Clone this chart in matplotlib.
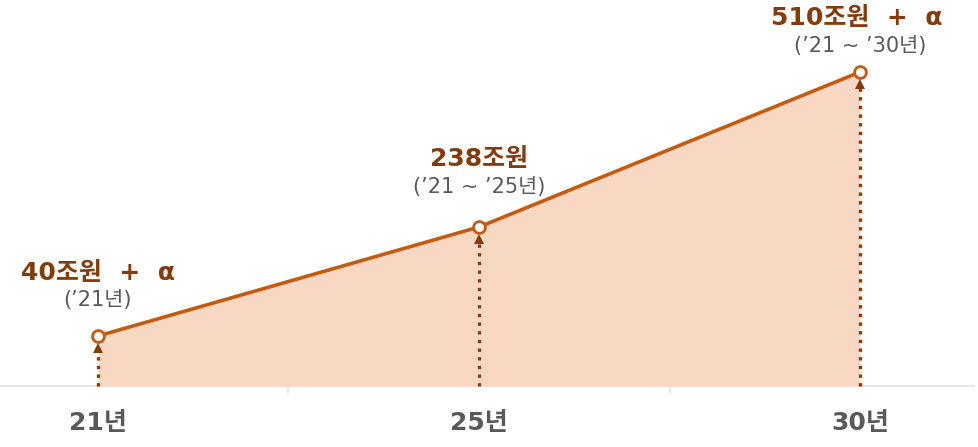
import matplotlib
matplotlib.use("Agg")
import matplotlib.pyplot as plt

# ---- data ----
categories = ["21년", "25년", "30년"]
amount_labels = ["40조원  +  α", "238조원", "510조원  +  α"]
period_labels = ["(’21년)", "(’21 ~ ’25년)", "(’21 ~ ’30년)"]
amounts = [40, 238, 510]          # 조원 (label values)
drawn_levels = [50, 159, 314]     # schematic heights as drawn in the picture

LINE = "#c55a11"
FILL = "#f8d8c2"
DARK = "#843c0c"
GRAY = "#595959"
AXIS = "#e3e3e3"

FAM = ["DejaVu Sans", "Noto Sans CJK KR"]
plt.rcParams["font.family"] = FAM

fig = plt.figure(figsize=(9.79, 4.47), dpi=100)
ax = fig.add_axes([0, 0, 1, 1])
ax.set_xlim(-0.257, 2.312)
ax.set_ylim(-61, 386)
ax.axis("off")

x = list(range(len(categories)))

# baseline and category separators
ax.plot([-0.257, 2.3], [0, 0], color=AXIS, lw=1.3, zorder=1)
ax.vlines([0.5, 1.5], -7, 0, color=AXIS, lw=1.3, zorder=1)

# area + line
ax.fill_between(x, 0, drawn_levels, color=FILL, lw=0, zorder=2)
ax.plot(x, drawn_levels, color=LINE, lw=2.6, zorder=4, solid_capstyle="round")

# dotted arrows
for xi, yi in zip(x, drawn_levels):
    ax.plot([xi, xi], [0, yi - 14], color=DARK, lw=2.4, ls=(0, (1, 1.6)),
            dash_capstyle="butt", zorder=3)
    ax.plot([xi], [yi - 12], marker="^", color=DARK, markersize=7, mew=0, zorder=3)

# markers
ax.plot(x, drawn_levels, ls="none", marker="o", markersize=8.5,
        markerfacecolor="white", markeredgecolor=LINE, markeredgewidth=2.0, zorder=5)

# labels
label_offsets = [(0, 63, 36), (0, 68, 40), (-0.01, 54, 26)]
for xi, yi, amt, per, (dx, o1, o2) in zip(x, drawn_levels, amount_labels, period_labels, label_offsets):
    ax.text(xi + dx, yi + o1, amt, ha="center", va="center", fontsize=18,
            fontweight="bold", color=DARK, zorder=6)
    ax.text(xi, yi + o2, per, ha="center", va="center", fontsize=15,
            color=GRAY, zorder=6)

# category labels
for xi, c in zip(x, categories):
    ax.text(xi, -37, c, ha="center", va="center", fontsize=18,
            fontweight="bold", color=GRAY)

fig.savefig("out.png", dpi=100)
